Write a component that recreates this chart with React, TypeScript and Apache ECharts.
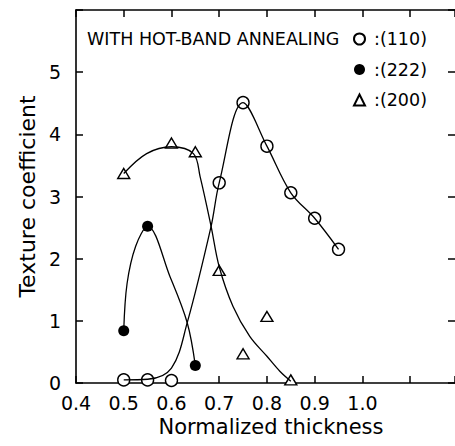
import React, { useEffect, useRef } from "react";
import * as echarts from "echarts";

// Tick labels
const xTickLabels = ["0.4", "0.5", "0.6", "0.7", "0.8", "0.9", "1.0"];
const yTickLabels = ["0", "1", "2", "3", "4", "5"];

// Measured points (normalized thickness, texture coefficient)
const thick110 = [0.5, 0.55, 0.6, 0.7, 0.75, 0.8, 0.85, 0.9, 0.95];
const tc110 = [0.05, 0.05, 0.04, 3.22, 4.51, 3.81, 3.06, 2.65, 2.15];

const thick222 = [0.5, 0.55, 0.65];
const tc222 = [0.84, 2.52, 0.28];

const thick200 = [0.5, 0.6, 0.65, 0.7, 0.75, 0.8, 0.85];
const tc200 = [3.37, 3.86, 3.72, 1.81, 0.47, 1.07, 0.05];

// Hand-drawn fitted curves
const curve110X = [0.5, 0.55, 0.6, 0.633, 0.683, 0.7, 0.75, 0.8, 0.85, 0.9, 0.95];
const curve110Y = [0.05, 0.06, 0.24, 0.97, 2.52, 3.22, 4.51, 3.81, 3.06, 2.65, 2.15];

const curve222X = [0.5, 0.507, 0.525, 0.55, 0.597, 0.633, 0.65];
const curve222Y = [0.84, 1.6, 2.2, 2.52, 1.71, 0.97, 0.28];

const curve200X = [0.5, 0.548, 0.6, 0.646, 0.66, 0.683, 0.7, 0.729, 0.764, 0.8, 0.827, 0.85];
const curve200Y = [3.37, 3.69, 3.8, 3.69, 3.32, 2.52, 1.87, 1.23, 0.75, 0.43, 0.19, 0.03];

const annotation = "WITH HOT-BAND ANNEALING";
const names = [":(110)", ":(222)", ":(200)"];

const FONT = "DejaVu Sans";
const X_MIN = 0.4;
const X_MAX = 1.194;

const zip = (xs: number[], ys: number[]) => xs.map((x, i) => [x, ys[i]]);

export default function App() {
  const ref = useRef<HTMLDivElement>(null);
  useEffect(() => {
    if (!ref.current) return;
    const chart = echarts.init(ref.current, undefined, { renderer: "svg" });
    const curve = (xs: number[], ys: number[]) => ({
      type: "line",
      data: zip(xs, ys),
      smooth: 0.35,
      showSymbol: false,
      lineStyle: { color: "#000", width: 1.3 },
    });
    chart.setOption({
      animation: false,
      grid: { left: 76, right: 0, top: 10, bottom: 63, outerBoundsMode: "none" },
      xAxis: [
        {
          type: "value",
          min: X_MIN,
          max: X_MAX,
          interval: 0.1,
          position: "bottom",
          axisLine: { show: true, onZero: false, lineStyle: { color: "#000", width: 1.6 } },
          axisTick: { show: true, inside: true, length: 7, lineStyle: { color: "#000", width: 1.5 } },
          splitLine: { show: false },
          axisLabel: {
            margin: 10,
            fontFamily: FONT,
            fontSize: 19,
            color: "#000",
            formatter: (v: number) => {
              const i = Math.round((v - 0.4) * 10);
              return Math.abs((v - 0.4) * 10 - i) < 1e-6 ? xTickLabels[i] ?? "" : "";
            },
          },
          name: "Normalized thickness",
          nameLocation: "middle",
          nameGap: 31,
          nameTextStyle: { fontFamily: FONT, fontSize: 21, color: "#000", padding: [0, 0, 0, 11] },
        },
        {
          type: "value",
          min: X_MIN,
          max: X_MAX,
          interval: 0.1,
          position: "top",
          axisLine: { show: true, onZero: false, lineStyle: { color: "#000", width: 1.6 } },
          axisTick: { show: true, inside: true, length: 7, lineStyle: { color: "#000", width: 1.5 } },
          splitLine: { show: false },
          axisLabel: { show: false },
        },
      ],
      yAxis: [
        {
          type: "value",
          min: 0,
          max: 6,
          interval: 1,
          position: "left",
          axisLine: { show: true, onZero: false, lineStyle: { color: "#000", width: 1.6 } },
          axisTick: { show: true, inside: true, length: 7, lineStyle: { color: "#000", width: 1.5 } },
          splitLine: { show: false },
          axisLabel: {
            margin: 15,
            fontFamily: FONT,
            fontSize: 19,
            color: "#000",
            formatter: (v: number) => yTickLabels[Math.round(v)] ?? "",
          },
          name: "Texture coefficient",
          nameLocation: "middle",
          nameGap: 38,
          nameTextStyle: { fontFamily: FONT, fontSize: 22, color: "#000" },
        },
        {
          type: "value",
          min: 0,
          max: 6,
          interval: 1,
          position: "right",
          axisLine: { show: false, onZero: false },
          axisTick: { show: true, inside: true, length: 7, lineStyle: { color: "#000", width: 1.5 } },
          splitLine: { show: false },
          axisLabel: { show: false },
        },
      ],
      legend: {
        data: names,
        orient: "vertical",
        left: 353,
        top: 29,
        padding: 0,
        itemGap: 10.5,
        itemWidth: 11,
        itemHeight: 11,
        textStyle: { fontFamily: FONT, fontSize: 17.5, color: "#000", lineHeight: 20, padding: [0, 0, 0, 4] },
      },
      graphic: [
        {
          type: "text",
          x: 87,
          y: 39,
          style: {
            text: annotation,
            fontFamily: FONT,
            fontSize: 17.5,
            fill: "#000",
            verticalAlign: "middle",
          },
        },
      ],
      series: [
        curve(curve110X, curve110Y),
        curve(curve222X, curve222Y),
        curve(curve200X, curve200Y),
        {
          name: names[0],
          type: "scatter",
          data: zip(thick110, tc110),
          symbol: "circle",
          symbolSize: 12,
          itemStyle: { color: "#fff", borderColor: "#000", borderWidth: 1.4, opacity: 1 },
        },
        {
          name: names[1],
          type: "scatter",
          data: zip(thick222, tc222),
          symbol: "circle",
          symbolSize: 11,
          itemStyle: { color: "#000", borderColor: "#000", borderWidth: 0, opacity: 1 },
        },
        {
          name: names[2],
          type: "scatter",
          data: zip(thick200, tc200),
          symbol: "triangle",
          symbolSize: [12, 10],
          itemStyle: { color: "#fff", borderColor: "#000", borderWidth: 1.4, opacity: 1 },
        },
      ],
    });
    return () => chart.dispose();
  }, []);
  return <div ref={ref} style={{ width: 455, height: 446, position: "absolute", left: 0, top: 0 }} />;
}
